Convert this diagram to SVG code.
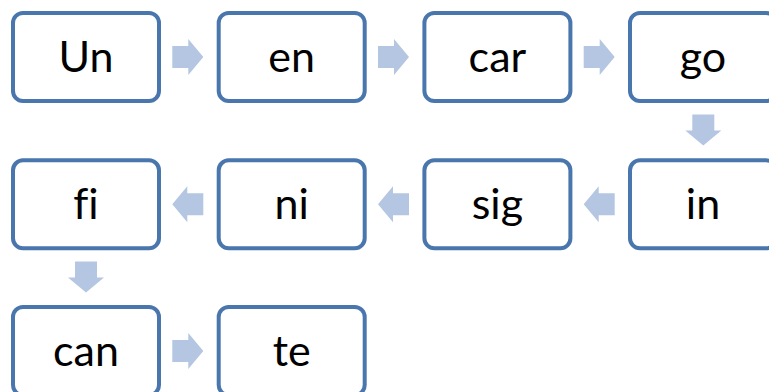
<svg xmlns="http://www.w3.org/2000/svg" xmlns:xlink="http://www.w3.org/1999/xlink" width="769" height="392" viewBox="0 0 769 392">
<style>
.box{fill:#ffffff;stroke:#4a76ae;stroke-width:4}
.lbl{font-family:Lato,"Open Sans",sans-serif;font-size:43px;fill:#000000;text-anchor:middle;font-variant-ligatures:none;font-feature-settings:"liga" 0}
.arr{fill:#b4c6e1}
</style>
<defs>
<path id="ar" d="M-15.5,-11 H0.5 V-18 L15.5,0 L0.5,18 V11 H-15.5 Z"/>
</defs>
<rect width="769" height="392" fill="#ffffff"/>
<g id="connectors" class="arr">
<use xlink:href="#ar" transform="translate(187.8,57)"/>
<use xlink:href="#ar" transform="translate(393.5,57)"/>
<use xlink:href="#ar" transform="translate(599.2,57)"/>
<use xlink:href="#ar" transform="translate(703.3,130) rotate(90)"/>
<use xlink:href="#ar" transform="translate(599.2,204.3) rotate(180)"/>
<use xlink:href="#ar" transform="translate(393.5,204.3) rotate(180)"/>
<use xlink:href="#ar" transform="translate(187.8,204.3) rotate(180)"/>
<use xlink:href="#ar" transform="translate(86,277) rotate(90)"/>
<use xlink:href="#ar" transform="translate(187.8,351) rotate(0)"/>
</g>
<g id="n1"><rect class="box" x="13" y="13" width="146" height="88" rx="10"/><text class="lbl" x="86" y="72">Un</text></g>
<g id="n2"><rect class="box" x="218.7" y="13" width="146" height="88" rx="10"/><text class="lbl" x="291.7" y="72">en</text></g>
<g id="n3"><rect class="box" x="424.4" y="13" width="146" height="88" rx="10"/><text class="lbl" x="497.4" y="72">car</text></g>
<g id="n4"><rect class="box" x="630" y="13" width="146" height="88" rx="10"/><text class="lbl" x="703" y="72">go</text></g>
<g id="n5"><rect class="box" x="630" y="160.3" width="146" height="88" rx="10"/><text class="lbl" x="703" y="219.3">in</text></g>
<g id="n6"><rect class="box" x="424.4" y="160.3" width="146" height="88" rx="10"/><text class="lbl" x="497.4" y="219.3">sig</text></g>
<g id="n7"><rect class="box" x="218.7" y="160.3" width="146" height="88" rx="10"/><text class="lbl" x="291.7" y="219.3">ni</text></g>
<g id="n8"><rect class="box" x="13" y="160.3" width="146" height="88" rx="10"/><text class="lbl" x="86" y="219.3">fi</text></g>
<g id="n9"><rect class="box" x="13" y="307" width="146" height="88" rx="10"/><text class="lbl" x="86" y="366">can</text></g>
<g id="n10"><rect class="box" x="218.7" y="307" width="146" height="88" rx="10"/><text class="lbl" x="291.7" y="366">te</text></g>
</svg>
